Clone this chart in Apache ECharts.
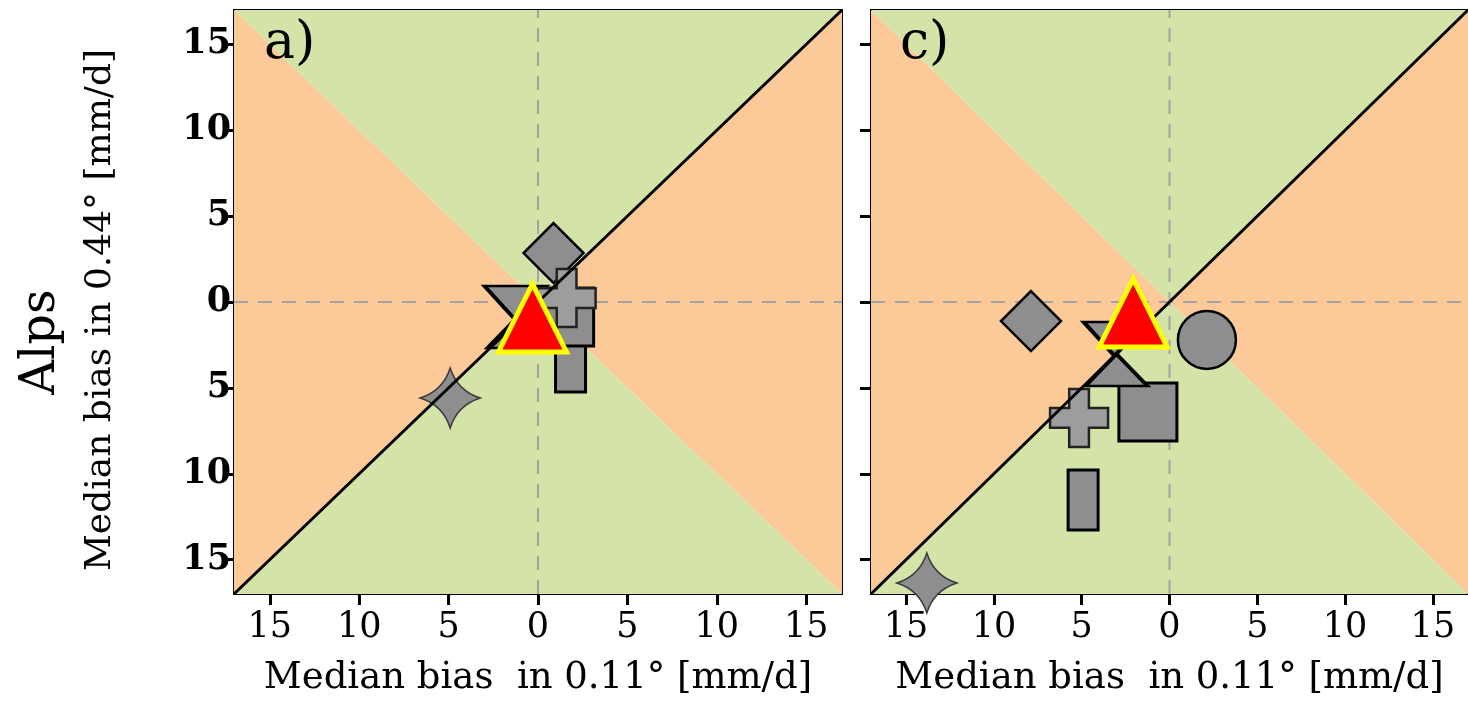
<!DOCTYPE html>
<html>
<head>
<meta charset="utf-8">
<script src="https://cdn.jsdelivr.net/npm/echarts@6/dist/echarts.min.js"></script>
<style>
html,body{margin:0;padding:0;background:#fff;}
#chart{width:1468px;height:707px;}
</style>
</head>
<body>
<div id="chart"></div>
<script>
// ---- data ----
const axisMin = -17;
const axisMax = 17;
const tickValues = [-15, -10, -5, 0, 5, 10, 15];
const markerNames = ['diamond', 'star', 'square', 'tallRect', 'cross', 'invTriangle', 'triangle', 'circle', 'ensemble'];
const panelA_x = [0.87, -4.91, 1.49, 1.82, 1.60, -1.26, -1.09, null, -0.31];
const panelA_y = [2.85, -5.59, -0.87, -3.49, 0.23, -0.06, -1.75, null, -0.93];
const panelC_x = [-7.89, -13.82, -1.23, -4.92, -5.15, -3.13, -3.02, 2.13, -2.07];
const panelC_y = [-1.11, -16.36, -6.40, -11.53, -6.75, -2.15, -3.96, -2.21, -0.64];
const panelLabels = ['a)', 'c)'];
const xTitle = 'Median bias  in 0.11° [mm/d]';
const yTitle = 'Median bias in 0.44° [mm/d]';
const regionTitle = 'Alps';

// ---- styles ----
const ORANGE = '#fbca98';
const GREEN = '#d4e4a9';
const GRAY = '#8e8e8e';
const FONT = 'DejaVu Serif';
const markerStyle = {
  diamond:     {symbol: 'diamond', size: 60, keep: false, rotate: 0, color: GRAY, border: '#000', bw: 2.5},
  star:        {symbol: 'path://M50,0 Q62,38 100,50 Q62,62 50,100 Q38,62 0,50 Q38,38 50,0 Z', size: 60, keep: true, rotate: 0, color: GRAY, border: '#3a3a3a', bw: 1.5},
  square:      {symbol: 'path://M0,0 L100,0 L100,100 L0,100 Z', size: 58, keep: true, rotate: 0, color: GRAY, border: '#000', bw: 3},
  tallRect:    {symbol: 'path://M0,0 L50,0 L50,100 L0,100 Z', size: 60, keep: true, rotate: 0, color: GRAY, border: '#000', bw: 3},
  cross:       {symbol: 'path://M33,0 H67 V33 H100 V67 H67 V100 H33 V67 H0 V33 H33 Z', size: 58, keep: true, rotate: 0, color: '#9d9d9d', border: '#222', bw: 2.5},
  invTriangle: {symbol: 'triangle', size: [62, 34], keep: false, rotate: 180, color: GRAY, border: '#000', bw: 3.5},
  triangle:    {symbol: 'triangle', size: [62, 32], keep: false, rotate: 0, color: GRAY, border: '#000', bw: 3.5},
  circle:      {symbol: 'circle', size: 58, keep: false, rotate: 0, color: GRAY, border: '#000', bw: 2.5},
  ensemble:    {symbol: 'triangle', size: 68, keep: false, rotate: 0, color: '#ff0000', border: '#ffff00', bw: 5}
};

const regions = [
  {color: ORANGE, pts: [[axisMin, axisMin], [0, 0], [axisMin, axisMax]]},
  {color: ORANGE, pts: [[axisMax, axisMin], [0, 0], [axisMax, axisMax]]},
  {color: GREEN,  pts: [[axisMin, axisMax], [0, 0], [axisMax, axisMax]]},
  {color: GREEN,  pts: [[axisMin, axisMin], [0, 0], [axisMax, axisMin]]}
];

const grids = [
  {left: 234, top: 10, width: 608, height: 584},
  {left: 871, top: 10, width: 607, height: 584}
];

function mainX(gi) {
  return {
    type: 'value', gridIndex: gi, min: axisMin, max: axisMax, position: 'bottom',
    axisLine: {show: true, onZero: false, lineStyle: {color: '#000', width: 2}},
    axisTick: {show: true, length: 11, customValues: tickValues, lineStyle: {color: '#000', width: 3}},
    axisLabel: {show: true, customValues: tickValues, formatter: v => String(Math.abs(v)),
      fontFamily: FONT, fontSize: 35, color: '#000', margin: 16},
    splitLine: {show: false},
    name: xTitle, nameLocation: 'middle', nameGap: 66,
    nameTextStyle: {fontFamily: FONT, fontSize: 37, color: '#000'}
  };
}
function topX(gi) {
  return {type: 'value', gridIndex: gi, min: axisMin, max: axisMax, position: 'top',
    axisLine: {show: true, onZero: false, lineStyle: {color: '#000', width: 2}},
    axisTick: {show: false}, axisLabel: {show: false}, splitLine: {show: false}};
}
function mainY(gi, labels) {
  return {
    type: 'value', gridIndex: gi, min: axisMin, max: axisMax, position: 'left',
    axisLine: {show: true, onZero: false, lineStyle: {color: '#000', width: 2}},
    axisTick: {show: true, length: 11, customValues: tickValues, lineStyle: {color: '#000', width: 3}},
    axisLabel: {show: labels, customValues: tickValues, formatter: v => String(Math.abs(v)),
      fontFamily: FONT, fontSize: 35, fontWeight: 'bold', color: '#000', margin: 3},
    splitLine: {show: false}
  };
}
function rightY(gi) {
  return {type: 'value', gridIndex: gi, min: axisMin, max: axisMax, position: 'right',
    axisLine: {show: true, onZero: false, lineStyle: {color: '#000', width: 2}},
    axisTick: {show: false}, axisLabel: {show: false}, splitLine: {show: false}};
}

const series = [];
function addPanel(gi, xs, ys) {
  const xi = gi * 2, yi = gi * 2;
  series.push({
    type: 'custom', xAxisIndex: xi, yAxisIndex: yi, silent: true, z: 1,
    data: regions.map((r, i) => [i]),
    renderItem: function (params, api) {
      const r = regions[api.value(0)];
      return {type: 'polygon', shape: {points: r.pts.map(p => api.coord(p))}, style: {fill: r.color}};
    }
  });
  series.push({type: 'line', xAxisIndex: xi, yAxisIndex: yi, silent: true, z: 2, symbol: 'none',
    data: [[0, axisMin], [0, axisMax]], lineStyle: {color: '#a3a3a3', width: 2, type: [14, 10]}});
  series.push({type: 'line', xAxisIndex: xi, yAxisIndex: yi, silent: true, z: 2, symbol: 'none',
    data: [[axisMin, 0], [axisMax, 0]], lineStyle: {color: '#a3a3a3', width: 2, type: [14, 10]}});
  const order = ['star', 'circle', 'diamond', 'tallRect', 'square', 'invTriangle', 'triangle', 'cross'];
  order.forEach((name, k) => {
    const i = markerNames.indexOf(name);
    if (xs[i] == null) return;
    const st = markerStyle[name];
    series.push({type: 'scatter', xAxisIndex: xi, yAxisIndex: yi, silent: true, z: 3 + k * 0.01,
      symbol: st.symbol, symbolSize: st.size, symbolRotate: st.rotate, symbolKeepAspect: st.keep,
      itemStyle: {color: st.color, borderColor: st.border, borderWidth: st.bw, opacity: 1},
      data: [[xs[i], ys[i]]]});
  });
  series.push({type: 'line', xAxisIndex: xi, yAxisIndex: yi, silent: true, z: 4, symbol: 'none',
    data: [[axisMin, axisMin], [axisMax, axisMax]], lineStyle: {color: '#000', width: 3}});
  const ie = markerNames.indexOf('ensemble');
  const se = markerStyle.ensemble;
  series.push({type: 'scatter', xAxisIndex: xi, yAxisIndex: yi, silent: true, z: 5,
    symbol: se.symbol, symbolSize: se.size,
    itemStyle: {color: se.color, borderColor: se.border, borderWidth: se.bw, opacity: 1},
    data: [[xs[ie], ys[ie]]]});
}
addPanel(0, panelA_x, panelA_y);
addPanel(1, panelC_x, panelC_y);

const option = {
  animation: false,
  backgroundColor: '#fff',
  grid: grids,
  xAxis: [mainX(0), topX(0), mainX(1), topX(1)],
  yAxis: [mainY(0, true), rightY(0), mainY(1, false), rightY(1)],
  series: series,
  graphic: [
    {type: 'text', left: 264, top: 18, z: 10, style: {text: panelLabels[0], font: '52px "DejaVu Serif"', fill: '#000'}},
    {type: 'text', left: 900, top: 18, z: 10, style: {text: panelLabels[1], font: '52px "DejaVu Serif"', fill: '#000'}},
    {type: 'text', x: 42, y: 342, rotation: Math.PI / 2, z: 10,
      style: {text: regionTitle, font: '48px "DejaVu Serif"', fill: '#000', align: 'center', verticalAlign: 'middle'}},
    {type: 'text', x: 101, y: 310, rotation: Math.PI / 2, z: 10,
      style: {text: yTitle, font: '36px "DejaVu Serif"', fill: '#000', align: 'center', verticalAlign: 'middle'}}
  ]
};

const chart = echarts.init(document.getElementById('chart'), null, {renderer: 'canvas'});
chart.setOption(option);
</script>
</body>
</html>
